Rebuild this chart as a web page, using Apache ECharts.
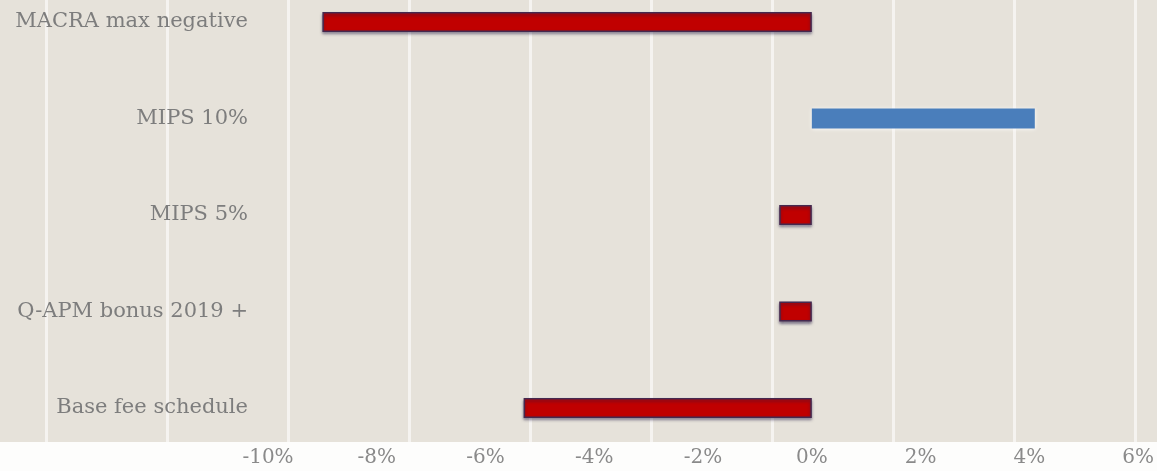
<!DOCTYPE html>
<html>
<head>
	<meta charset="utf-8">
	<title>MACRA payment adjustments</title>
	<script src="https://cdn.jsdelivr.net/npm/echarts@6/dist/echarts.min.js"></script>
	<style>
		html, body { margin: 0; padding: 0; background: #fdfdfc; }
		/* 背景纹理：米色底 + 白色竖条，底部白边 */
		#main {
			width: 1157px;
			height: 471px;
			background:
				linear-gradient(to bottom, rgba(0,0,0,0) 442px, #fdfdfc 442px),
				repeating-linear-gradient(90deg, rgba(255,255,255,0) 0 45px, rgba(255,255,255,0.6) 45px 48px, rgba(255,255,255,0) 48px 121px),
				#e6e2da;
		}
	</style>
</head>
<body>
	<div id="main"></div>
	<script type="text/javascript">
		// categories, top to bottom
		var categories = ['MACRA max negative', 'MIPS 10%', 'MIPS 5%', 'Q-APM bonus 2019 +', 'Base fee schedule'];
		// percent change
		var values = [-9, 4.1, -0.6, -0.6, -5.3];
		var xTicks = { min: -10, max: 6, interval: 2 };

		var chart = echarts.init(document.getElementById('main'));

		var barData = values.map(function (v) {
			if (v >= 0) {
				return {
					value: v,
					itemStyle: {
						color: '#4a7ebb',
						shadowColor: 'rgba(255,255,255,0.9)',
						shadowBlur: 4
					}
				};
			}
			return {
				value: v,
				itemStyle: {
					color: '#c00000',
					borderColor: '#45294f',
					borderWidth: 1.5,
					shadowColor: 'rgba(40,30,70,0.55)',
					shadowBlur: 3,
					shadowOffsetY: 2
				}
			};
		});

		var option = {
			backgroundColor: 'transparent',
			animation: false,
			grid: {
				left: 268,
				right: 17,
				top: 22,
				bottom: 63,
				containLabel: false
			},
			xAxis: {
				type: 'value',
				min: xTicks.min,
				max: xTicks.max,
				interval: xTicks.interval,
				offset: 32,
				axisLine: { show: false },
				axisTick: { show: false },
				splitLine: { show: false },
				axisLabel: {
					formatter: '{value}%',
					color: '#8a8a8a',
					fontFamily: 'DejaVu Serif',
					fontSize: 20
				}
			},
			yAxis: {
				type: 'category',
				data: categories,
				inverse: true,
				boundaryGap: false,
				axisLine: { show: false },
				axisTick: { show: false },
				splitLine: { show: false },
				axisLabel: {
					margin: 20,
					color: '#7d7d7d',
					fontFamily: 'DejaVu Serif',
					fontSize: 21
				}
			},
			series: [{
				type: 'bar',
				barWidth: 20,
				data: barData
			}]
		};
		chart.setOption(option);
	</script>
</body>
</html>
